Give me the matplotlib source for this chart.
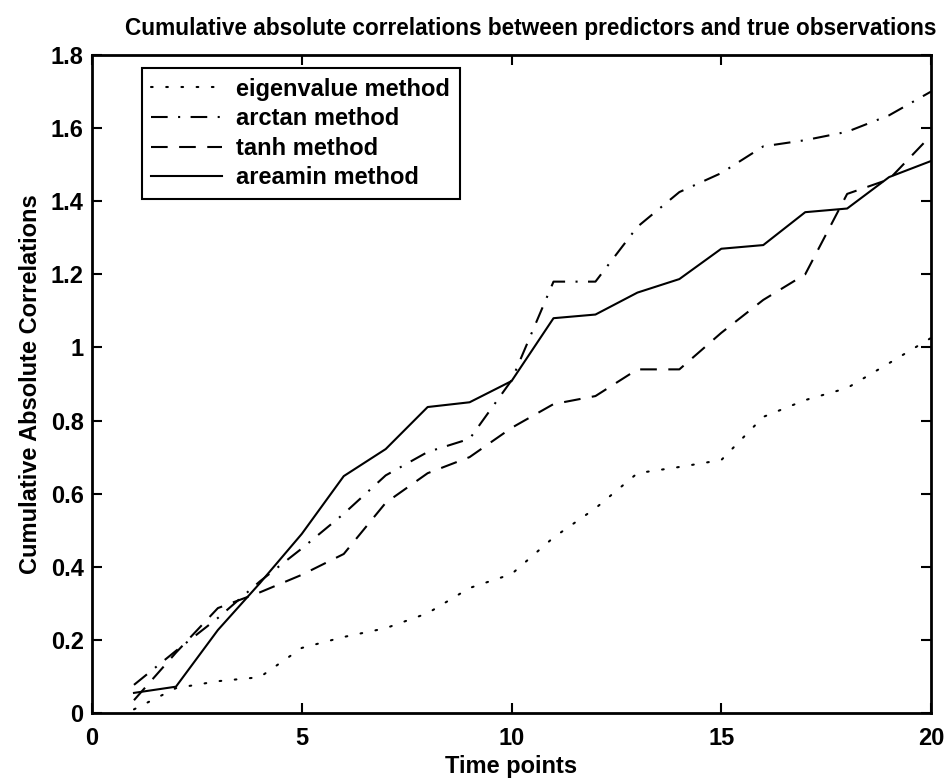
import matplotlib
matplotlib.use("Agg")
import matplotlib.pyplot as plt
import numpy as np

time_points = list(range(1, 21))
eigenvalue = [0.010, 0.068, 0.087, 0.098, 0.178, 0.208, 0.232, 0.273, 0.342, 0.380,
              0.480, 0.560, 0.656, 0.673, 0.692, 0.810, 0.856, 0.889, 0.957, 1.026]
arctan = [0.077, 0.170, 0.260, 0.360, 0.450, 0.545, 0.650, 0.714, 0.750, 0.910,
          1.180, 1.180, 1.330, 1.425, 1.477, 1.550, 1.567, 1.590, 1.635, 1.700]
tanh = [0.035, 0.165, 0.287, 0.330, 0.378, 0.435, 0.575, 0.656, 0.700, 0.780,
        0.845, 0.867, 0.940, 0.940, 1.040, 1.130, 1.200, 1.420, 1.460, 1.580]
areamin = [0.055, 0.072, 0.227, 0.355, 0.490, 0.648, 0.722, 0.837, 0.850, 0.908,
           1.080, 1.090, 1.150, 1.187, 1.270, 1.280, 1.370, 1.380, 1.466, 1.510]
labels = ["eigenvalue method", "arctan method", "tanh method", "areamin method"]
xticks = [0, 5, 10, 15, 20]
yticks = [0, 0.2, 0.4, 0.6, 0.8, 1.0, 1.2, 1.4, 1.6, 1.8]
yticklabels = ["0", "0.2", "0.4", "0.6", "0.8", "1", "1.2", "1.4", "1.6", "1.8"]

plt.rcParams['font.family'] = ['Liberation Sans', 'DejaVu Sans']
FS = 17

fig = plt.figure(figsize=(9.44, 7.8), dpi=100)
ax = fig.add_axes([0.0975, 0.0859, 0.8888, 0.8436])

lw = 1.5
ax.plot(time_points, eigenvalue, color='black', lw=lw, linestyle=(0, (0.8, 6.5)),
        dash_capstyle='round', label=labels[0])
ax.plot(time_points, arctan, color='black', lw=lw, linestyle=(0, (8, 5, 1, 5)),
        label=labels[1])
ax.plot(time_points, tanh, color='black', lw=lw, linestyle=(0, (8, 5.5)),
        label=labels[2])
ax.plot(time_points, areamin, color='black', lw=lw, linestyle='-',
        label=labels[3])

ax.set_xlim(0, 20)
ax.set_ylim(0, 1.8)
ax.set_xticks(xticks)
ax.set_xticklabels([str(v) for v in xticks], fontsize=FS, fontweight='bold')
ax.set_yticks(yticks)
ax.set_yticklabels(yticklabels, fontsize=FS, fontweight='bold')
ax.tick_params(direction='in', length=7, width=1.5, top=True, right=True)
ax.tick_params(axis='x', pad=10)
ax.tick_params(axis='y', pad=6)
for sp in ax.spines.values():
    sp.set_linewidth(2)

ax.set_xlabel("Time points", fontsize=FS, fontweight='bold', labelpad=4)
ax.set_ylabel("Cumulative Absolute Correlations", fontsize=FS, fontweight='bold', labelpad=6)
fig.text(531 / 944, 1 - 29 / 780, "Cumulative absolute correlations between predictors and true observations",
         ha='center', va='center', fontsize=16.3, fontweight='bold')

leg = ax.legend(loc='upper left', bbox_to_anchor=(0.0596, 0.980), borderaxespad=0,
                fancybox=False, edgecolor='black', framealpha=1,
                prop={'size': FS, 'weight': 'bold'}, handlelength=3.0, handletextpad=0.6,
                labelspacing=0.28, borderpad=0.4)
leg.get_frame().set_linewidth(1.5)

fig.savefig("out.png", dpi=100)
